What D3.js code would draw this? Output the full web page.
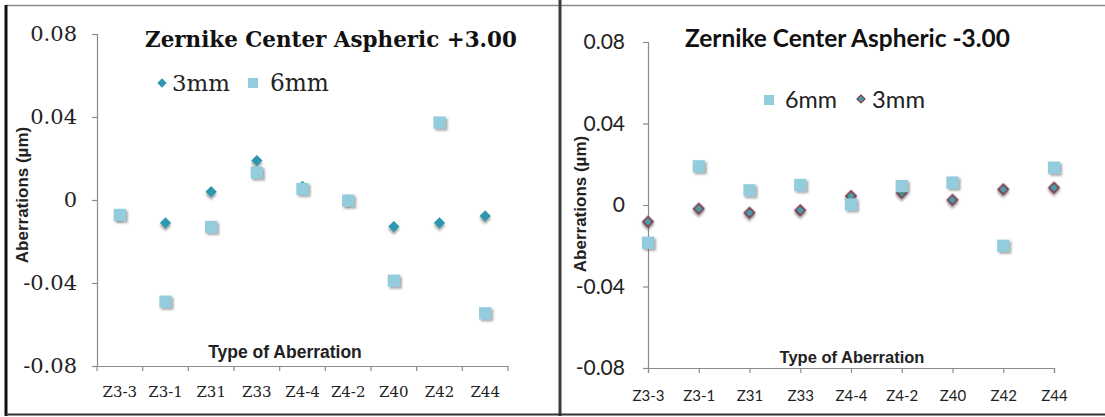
<!DOCTYPE html>
<html>
<head>
<meta charset="utf-8">
<script src="https://cdn.jsdelivr.net/npm/d3@7/dist/d3.min.js"></script>
<style>
  html, body { margin: 0; padding: 0; background: #fff; }
  svg { display: block; }
</style>
</head>
<body>
<svg id="chart" width="1105" height="417"></svg>
<script>
// Zernike aberration terms
const categories = ["Z3-3", "Z3-1", "Z31", "Z33", "Z4-4", "Z4-2", "Z40", "Z42", "Z44"];

// Center aspheric +3.00 lens (µm)
const plus3mm = [-0.007, -0.011, 0.004, 0.019, 0.0065, 0.0, -0.0128, -0.011, -0.0077];
const plus6mm = [-0.0072, -0.049, -0.013, 0.0132, 0.0053, -0.0003, -0.0389, 0.0373, -0.0546];

// Center aspheric -3.00 lens (µm)
const minus6mm = [-0.0185, 0.019, 0.0072, 0.0098, 0.0003, 0.0093, 0.011, -0.020, 0.0183];
const minus3mm = [-0.0082, -0.0018, -0.0038, -0.0026, 0.0044, 0.006, 0.0025, 0.0077, 0.0085];

const yTicks = [-0.08, -0.04, 0, 0.04, 0.08];
const yDomain = [-0.08, 0.08];

const fmt = d => d === 0 ? "0" : d.toFixed(2);

const svg = d3.select("#chart");

// scale a text's font size so it spans the given width
function fitWidth(sel, width) {
  const w = sel.node().getComputedTextLength();
  if (w > 0) sel.attr("font-size", +sel.attr("font-size") * width / w);
  return sel;
}

// soft drop shadow under markers
const defs = svg.append("defs");
const shadow = defs.append("filter").attr("id", "shadow")
  .attr("x", "-50%").attr("y", "-50%").attr("width", "200%").attr("height", "200%");
shadow.append("feDropShadow")
  .attr("dx", 1.8).attr("dy", 1.8).attr("stdDeviation", 1.3)
  .attr("flood-color", "#555").attr("flood-opacity", 0.55);

const diamond = d3.symbol().type(d3.symbolSquare).size(64);
const square = d3.symbol().type(d3.symbolSquare).size(150);

// ---------- frames ----------
const frame = svg.append("g");
frame.append("line").attr("x1", 6).attr("x2", 1105).attr("y1", 5.5).attr("y2", 5.5)
  .attr("stroke", "#8a8a8a").attr("stroke-width", 1.5);
frame.append("line").attr("x1", 6).attr("x2", 6).attr("y1", 5).attr("y2", 416)
  .attr("stroke", "#111").attr("stroke-width", 3);
frame.append("line").attr("x1", 560).attr("x2", 560).attr("y1", 0).attr("y2", 416)
  .attr("stroke", "#3a3a3a").attr("stroke-width", 3);
frame.append("line").attr("x1", 6).attr("x2", 1105).attr("y1", 414.5).attr("y2", 414.5)
  .attr("stroke", "#333").attr("stroke-width", 2);

function styleAxis(g) {
  g.selectAll(".domain").attr("stroke", "#8c8c8c").attr("stroke-width", 1.2);
  g.selectAll(".tick line").attr("stroke", "#8c8c8c").attr("stroke-width", 1.2);
}

// ---------- left chart: +3.00 ----------
{
  const serif = "DejaVu Serif";
  const x = d3.scaleBand().domain(categories).range([97, 508]);
  const y = d3.scaleLinear().domain(yDomain).range([366, 34]);
  const g = svg.append("g");

  const yAxis = g.append("g").attr("transform", "translate(97,0)")
    .call(d3.axisLeft(y).tickValues(yTicks).tickFormat(fmt).tickSize(5).tickPadding(15));
  styleAxis(yAxis);
  yAxis.selectAll("text").attr("font-family", serif).attr("font-size", 21).attr("fill", "#222");

  const xAxis = g.append("g").attr("transform", "translate(0,366)")
    .call(d3.axisBottom(x).tickSize(0).tickPadding(20));
  styleAxis(xAxis);
  xAxis.selectAll("text").attr("font-family", serif).attr("font-size", 15).attr("fill", "#222");
  // tick marks sit between categories
  xAxis.selectAll(".sep").data(d3.range(categories.length + 1)).enter().append("line")
    .attr("x1", i => x.range()[0] + i * x.step()).attr("x2", i => x.range()[0] + i * x.step())
    .attr("y1", 0).attr("y2", 5).attr("stroke", "#8c8c8c").attr("stroke-width", 1.2);

  const cx = c => x(c) + x.bandwidth() / 2;

  g.append("g").selectAll("path").data(categories).enter().append("path")
    .attr("d", diamond)
    .attr("transform", (c, i) => `translate(${cx(c)},${y(plus3mm[i])}) rotate(45)`)
    .attr("fill", "#2f97ae").attr("filter", "url(#shadow)");
  g.append("g").selectAll("path").data(categories).enter().append("path")
    .attr("d", square)
    .attr("transform", (c, i) => `translate(${cx(c)},${y(plus6mm[i])})`)
    .attr("fill", "#93cddd").attr("filter", "url(#shadow)");

  fitWidth(g.append("text").attr("x", 145).attr("y", 47)
    .attr("font-family", serif).attr("font-weight", "bold").attr("font-size", 20).attr("fill", "#111")
    .text("Zernike Center Aspheric +3.00"), 372);

  // legend
  g.append("path").attr("d", d3.symbol().type(d3.symbolSquare).size(44))
    .attr("transform", "translate(162,83) rotate(45)").attr("fill", "#2f97ae");
  fitWidth(g.append("text").attr("x", 172).attr("y", 91).attr("font-family", serif).attr("font-size", 22)
    .attr("fill", "#222").text("3mm"), 58);
  g.append("rect").attr("x", 248).attr("y", 78).attr("width", 10).attr("height", 10).attr("fill", "#93cddd");
  fitWidth(g.append("text").attr("x", 270).attr("y", 91).attr("font-family", serif).attr("font-size", 22)
    .attr("fill", "#222").text("6mm"), 59);

  g.append("text").attr("transform", "translate(28,195) rotate(-90)").attr("text-anchor", "middle")
    .attr("font-family", "Liberation Sans").attr("font-weight", "bold").attr("font-size", 17)
    .attr("fill", "#222").text("Aberrations (µm)");
  g.append("text").attr("x", 285).attr("y", 358).attr("text-anchor", "middle")
    .attr("font-family", "Liberation Sans").attr("font-weight", "bold").attr("font-size", 17.5)
    .attr("fill", "#222").text("Type of Aberration");
}

// ---------- right chart: -3.00 ----------
{
  const sans = "Lato";
  const x = d3.scalePoint().domain(categories).range([648, 1054]);
  const y = d3.scaleLinear().domain(yDomain).range([368, 42]);
  const g = svg.append("g");

  const yAxis = g.append("g").attr("transform", "translate(648,0)")
    .call(d3.axisLeft(y).tickValues(yTicks).tickFormat(fmt).tickSize(5).tickPadding(18));
  styleAxis(yAxis);
  yAxis.selectAll("text").attr("font-family", sans).attr("font-size", 21).attr("fill", "#222");

  const xAxis = g.append("g").attr("transform", "translate(0,368)")
    .call(d3.axisBottom(x).tickSize(5).tickPadding(17));
  styleAxis(xAxis);
  xAxis.selectAll("text").attr("font-family", sans).attr("font-size", 15).attr("fill", "#222");

  g.append("g").selectAll("path").data(categories).enter().append("path")
    .attr("d", d3.symbol().type(d3.symbolSquare).size(52))
    .attr("transform", (c, i) => `translate(${x(c)},${y(minus3mm[i])}) rotate(45)`)
    .attr("fill", "#4b9ea6").attr("stroke", "#7d3347").attr("stroke-width", 1.6)
    .attr("filter", "url(#shadow)");
  g.append("g").selectAll("path").data(categories).enter().append("path")
    .attr("d", square)
    .attr("transform", (c, i) => `translate(${x(c)},${y(minus6mm[i])})`)
    .attr("fill", "#93cddd").attr("filter", "url(#shadow)");

  fitWidth(g.append("text").attr("x", 685).attr("y", 47)
    .attr("font-family", sans).attr("font-weight", "bold").attr("font-size", 20).attr("fill", "#111")
    .text("Zernike Center Aspheric -3.00"), 325);

  // legend
  g.append("rect").attr("x", 764).attr("y", 95).attr("width", 10).attr("height", 10).attr("fill", "#93cddd");
  fitWidth(g.append("text").attr("x", 785).attr("y", 108).attr("font-family", sans).attr("font-size", 21)
    .attr("fill", "#222").text("6mm"), 52);
  g.append("path").attr("d", d3.symbol().type(d3.symbolSquare).size(32))
    .attr("transform", "translate(861,99) rotate(45)")
    .attr("fill", "#4b9ea6").attr("stroke", "#7d3347").attr("stroke-width", 1.2);
  fitWidth(g.append("text").attr("x", 872).attr("y", 108).attr("font-family", sans).attr("font-size", 21)
    .attr("fill", "#222").text("3mm"), 53);

  g.append("text").attr("transform", "translate(586,204) rotate(-90)").attr("text-anchor", "middle")
    .attr("font-family", "Liberation Sans").attr("font-weight", "bold").attr("font-size", 17)
    .attr("fill", "#222").text("Aberrations (µm)");
  g.append("text").attr("x", 852).attr("y", 363).attr("text-anchor", "middle")
    .attr("font-family", "Liberation Sans").attr("font-weight", "bold").attr("font-size", 16.5)
    .attr("fill", "#222").text("Type of Aberration");
}
</script>
</body>
</html>
